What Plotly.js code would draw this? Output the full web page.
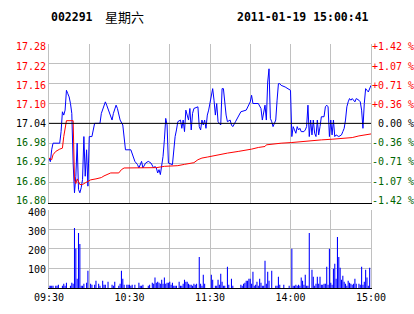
<!DOCTYPE html>
<html><head><meta charset="utf-8">
<script src="https://cdn.plot.ly/plotly-3.0.1.min.js"></script>
<style>html,body{margin:0;padding:0;background:#fff;}#chart{width:414px;height:314px;}</style>
</head><body><div id="chart"></div>
<script>
const stockCode = '002291';
const weekday = '星期六';
const timestamp = '2011-01-19 15:00:41';
const prevClose = 17.04;
const timeTicks = [0, 30, 60, 90, 120, 150, 180, 210, 240];
const timeLabels = ['09:30', '', '10:30', '', '11:30', '', '14:00', '', '15:00'];
const priceTicks = [16.80, 16.86, 16.92, 16.98, 17.04, 17.10, 17.16, 17.22, 17.28];
const priceLabels = ['16.80', '16.86', '16.92', '16.98', '17.04', '17.10', '17.16', '17.22', '17.28'];
const pctLabels = ['-1.42 %', '-1.07 %', '-0.71 %', '-0.36 %', '\u00a00.00 %', '+0.36 %', '+0.71 %', '+1.07 %', '+1.42 %'];
const volTicks = [100, 200, 300, 400];
const volLabels = ['100', '200', '300', '400'];

// [minute from 09:30, price]
const priceSeries = [
 [0,16.935],[1,16.924],[2,16.96],[3,16.98],[8,16.98],[9,17.015],[10,17.075],[11,17.065],[12,17.08],[13,17.14],
 [14,17.13],[15,17.12],[16,17.10],[17,17.07],[18,16.92],[19,16.83],[20,16.88],[21,16.98],[22,16.84],[23,16.83],
 [24,16.845],[25,16.87],[26,17.00],[27,16.88],[28,16.96],[29,16.85],[30,17.00],[32,17.00],[34,17.04],[38,17.04],
 [39,17.07],[41,17.095],[42,17.105],[43,17.095],[45,17.075],[47,17.05],[48,17.07],[50,17.095],[51,17.085],[52,17.07],
 [53,17.05],[55,17.035],[56,16.99],[57,16.96],[61,16.96],[62,16.95],[63,16.94],[64,16.925],[66,16.915],[67,16.905],
 [69,16.925],[70,16.905],[72,16.92],[74,16.925],[76,16.92],[78,16.905],[79,16.91],[80,16.905],[81,16.89],[82,16.90],
 [83,16.885],[84,16.91],[85,16.94],[86,16.99],[87,17.055],[88,17.035],[89,16.92],[92,16.915],[93,16.97],[94,17.00],
 [95,17.02],[96,17.045],[98,17.05],[99,17.025],[100,17.05],[101,17.015],[102,17.08],[103,17.065],[104,17.05],[105,17.085],
 [106,17.02],[107,17.07],[108,17.085],[111,17.09],[112,17.03],[113,17.02],[114,17.05],[115,17.035],[116,17.05],[117,17.025],
 [118,17.065],[119,17.08],[120,17.105],[121,17.13],[122,17.145],[123,17.11],[124,17.065],[125,17.10],[126,17.045],[128,17.035],
 [129,17.145],[130,17.145],[131,17.10],[132,17.065],[133,17.045],[135,17.05],[136,17.035],[137,17.03],[139,17.045],[141,17.06],
 [143,17.075],[147,17.08],[148,17.09],[150,17.105],[151,17.125],[152,17.10],[156,17.10],[157,17.09],[158,17.085],[159,17.05],
 [160,17.08],[161,17.095],[162,17.05],[163,17.165],[164,17.205],[165,17.055],[166,17.045],[167,17.03],[168,17.04],[169,17.05],
 [170,17.11],[171,17.16],[172,17.16],[173,17.155],[176,17.15],[178,17.145],[180,17.14],[181,17.00],[182,17.03],[183,17.02],
 [184,17.01],[185,17.03],[186,17.02],[187,17.025],[188,17.015],[190,17.015],[191,17.02],[192,17.03],[193,17.095],[194,17.00],
 [195,17.05],[196,17.005],[197,17.05],[198,17.01],[199,17.00],[200,17.05],[201,17.005],[202,17.03],[203,17.06],[205,17.06],
 [206,17.09],[207,17.095],[208,17.09],[209,17.00],[210,17.05],[211,17.005],[212,17.05],[213,17.00],[214,17.005],[216,17.00],
 [218,17.005],[219,17.015],[220,17.025],[221,17.05],[222,17.09],[223,17.105],[224,17.115],[225,17.11],[226,17.115],[228,17.105],
 [229,17.115],[231,17.11],[232,17.105],[233,17.08],[234,17.025],[235,17.10],[236,17.145],[237,17.14],[238,17.135],[240,17.155]
];

// [minute, average price]
const avgSeries = [
 [0,16.935],[2,16.93],[3,16.945],[5,16.955],[8,16.962],[10,16.965],[11,17.00],[12,17.02],[13,17.048],[18,17.048],
 [19,16.869],[20,16.858],[21,16.872],[23,16.855],[25,16.855],[27,16.86],[29,16.865],[31,16.869],[35,16.872],[39,16.876],
 [41,16.881],[44,16.886],[46,16.89],[52,16.89],[54,16.90],[56,16.905],[80,16.906],[86,16.91],[96,16.912],[101,16.916],
 [108,16.921],[111,16.93],[114,16.935],[118,16.938],[123,16.942],[128,16.947],[133,16.95],[141,16.955],[146,16.958],[151,16.962],
 [156,16.967],[161,16.97],[162,16.975],[166,16.977],[173,16.98],[181,16.982],[188,16.985],[196,16.987],[203,16.99],[211,16.992],
 [218,16.995],[226,16.997],[231,17.002],[235,17.005],[240,17.008]
];

// [minute, volume]
const volSeries = [
 [0,12],[1,12],[2,12],[3,12],[5,12],[6,12],[7,17],[10,12],[11,22],[12,12],[13,27],[16,12],[17,27],[18,22],[19,307],
 [20,202],[21,47],[22,281],[23,225],[24,12],[25,12],[26,22],[28,27],[29,88],[31,22],[32,17],[34,17],[35,37],[37,22],
 [38,12],[40,37],[41,17],[42,17],[44,32],[47,17],[48,12],[49,32],[52,12],[53,22],[54,88],[55,47],[56,17],[58,17],
 [59,17],[60,17],[61,12],[62,17],[64,17],[67,27],[68,12],[69,12],[70,17],[74,12],[75,17],[77,27],[78,22],[79,53],
 [80,27],[81,32],[82,27],[83,22],[84,42],[85,22],[86,53],[87,22],[88,27],[89,27],[90,32],[91,17],[92,27],[93,12],
 [94,12],[95,12],[97,32],[98,12],[99,12],[100,22],[101,42],[102,32],[103,32],[104,22],[105,17],[106,17],[107,12],
 [108,22],[109,17],[110,22],[112,159],[113,22],[114,12],[115,68],[116,22],[121,68],[122,42],[124,12],[125,12],[126,42],
 [127,17],[128,73],[129,32],[130,12],[131,12],[133,108],[134,17],[136,47],[137,12],[143,17],[144,12],[145,22],[146,27],
 [147,37],[148,37],[149,47],[150,47],[151,22],[152,83],[153,12],[154,17],[155,32],[156,12],[157,47],[158,27],[159,12],
 [160,12],[161,139],[162,22],[163,83],[164,37],[166,88],[169,12],[170,12],[171,58],[172,17],[175,17],[179,12],[181,200],
 [182,12],[183,12],[184,17],[185,12],[186,17],[187,12],[188,53],[189,37],[190,17],[191,68],[192,12],[193,12],[194,281],
 [196,93],[197,58],[198,12],[199,22],[200,58],[201,22],[202,58],[203,17],[204,17],[205,22],[206,22],[207,108],[208,17],
 [209,200],[210,27],[211,17],[212,98],[213,124],[214,47],[215,261],[216,159],[217,103],[218,42],[219,63],[220,32],[221,22],
 [222,12],[223,37],[224,27],[225,22],[226,17],[227,22],[228,47],[229,22],[231,22],[232,17],[233,108],[234,17],[235,32],
 [236,93],[237,53],[238,12],[239,103]
];

const RED = '#ff0000', GREEN = '#006400', BLUE = '#0000ff', GRID = '#c0c0c0';
const MONO = 'DejaVu Sans Mono, Liberation Mono, monospace';
function colorFor(v) { return v > prevClose + 1e-9 ? RED : (v < prevClose - 1e-9 ? GREEN : '#000000'); }
const leftText = priceLabels.map((t, i) => '<span style="fill:' + colorFor(priceTicks[i]) + '">' + t + '</span>');
const rightText = pctLabels.map((t, i) => '<span style="fill:' + colorFor(priceTicks[i]) + '">' + t + '</span>');

const traces = [
  { type: 'scatter', mode: 'lines', x: priceSeries.map(p => p[0]), y: priceSeries.map(p => p[1]),
    xaxis: 'x', yaxis: 'y', line: { color: BLUE, width: 1 }, hoverinfo: 'skip' },
  { type: 'scatter', mode: 'lines', x: avgSeries.map(p => p[0]), y: avgSeries.map(p => p[1]),
    xaxis: 'x', yaxis: 'y', line: { color: RED, width: 1 }, hoverinfo: 'skip' },
  { type: 'bar', x: volSeries.map(p => p[0]), y: volSeries.map(p => p[1]), width: 0.8,
    xaxis: 'x2', yaxis: 'y3', marker: { color: BLUE, line: { width: 0 } }, hoverinfo: 'skip' },
  // carriers for the label-only axes (draw nothing)
  { type: 'scatter', mode: 'none', x: [0], y: [prevClose], xaxis: 'x', yaxis: 'y4', hoverinfo: 'skip' },
  { type: 'scatter', mode: 'none', x: [0], y: [prevClose], xaxis: 'x', yaxis: 'y2', hoverinfo: 'skip' },
  { type: 'scatter', mode: 'none', x: [0], y: [volTicks[0]], xaxis: 'x2', yaxis: 'y5', hoverinfo: 'skip' }
];

// Label axes sit a touch inside the panel edges, as in the reference (top/bottom labels kept within the frame).
const priceLabelRange = [16.7925, 17.2888];
const volLabelRange = [4.3, 413.6];

const axisFont = { family: MONO, size: 10, color: '#000' };
const layout = {
  width: 414, height: 314,
  margin: { l: 49, r: 43, t: 44, b: 26, pad: 0 },
  paper_bgcolor: '#ffffff', plot_bgcolor: '#ffffff',
  showlegend: false,
  font: axisFont,
  xaxis: { domain: [0, 1], anchor: 'y', range: [0, 240], tickvals: timeTicks, showticklabels: false,
    showgrid: true, gridcolor: GRID, gridwidth: 1, zeroline: false, showline: true, linecolor: '#000', linewidth: 1, ticks: '' },
  yaxis: { domain: [0.3496, 1], anchor: 'x', range: [16.80, 17.28], tickvals: priceTicks, ticktext: priceTicks.map(() => ''),
    showgrid: true, gridcolor: GRID, zeroline: false, showline: true, mirror: true, linecolor: GRID, ticks: '' },
  yaxis4: { overlaying: 'y', side: 'left', anchor: 'x', range: priceLabelRange, tickvals: priceTicks, ticktext: leftText,
    showgrid: false, zeroline: false, showline: false, ticks: '', tickfont: axisFont, ticklabelstandoff: 2 },
  yaxis2: { overlaying: 'y', side: 'right', anchor: 'x', range: priceLabelRange, tickvals: priceTicks, ticktext: rightText,
    showgrid: false, zeroline: false, showline: false, ticks: '', tickfont: axisFont, ticklabelstandoff: 0 },
  xaxis2: { domain: [0, 1], anchor: 'y3', range: [0, 240], tickvals: timeTicks, ticktext: timeLabels,
    showgrid: true, gridcolor: GRID, zeroline: false, showline: true, linecolor: '#000', linewidth: 1, ticks: '',
    tickfont: axisFont },
  yaxis3: { domain: [0, 0.3209], anchor: 'x2', range: [0, 400], tickvals: volTicks, ticktext: volTicks.map(() => ''),
    showgrid: true, gridcolor: GRID, gridwidth: 1, zeroline: false, showline: true, mirror: true, linecolor: GRID, ticks: '' },
  yaxis5: { overlaying: 'y3', side: 'left', anchor: 'x2', range: volLabelRange, tickvals: volTicks, ticktext: volLabels,
    showgrid: false, zeroline: false, showline: false, ticks: '', tickfont: axisFont, ticklabelstandoff: 2 },
  shapes: [
    { type: 'line', xref: 'x domain', x0: 0, x1: 1, yref: 'y', y0: prevClose, y1: prevClose,
      line: { color: '#000000', width: 1 } }
  ],
  annotations: [
    { text: '<b>' + stockCode + '</b>', xref: 'paper', yref: 'paper', x: 0.003, y: 1.112, xanchor: 'left', yanchor: 'middle',
      showarrow: false, borderpad: 0, font: { family: MONO, size: 11.5, color: '#000' } },
    { text: weekday, xref: 'paper', yref: 'paper', x: 0.17, y: 1.112, xanchor: 'left', yanchor: 'middle',
      showarrow: false, borderpad: 0, font: { family: 'Noto Sans CJK SC', size: 13, color: '#000' } },
    { text: '<b>' + timestamp + '</b>', xref: 'paper', yref: 'paper', x: 0.997, y: 1.112, xanchor: 'right', yanchor: 'middle',
      showarrow: false, borderpad: 0, font: { family: MONO, size: 11.5, color: '#000' } }
  ]
};

Plotly.newPlot('chart', traces, layout, { staticPlot: true, displayModeBar: false });
</script>
</body></html>
